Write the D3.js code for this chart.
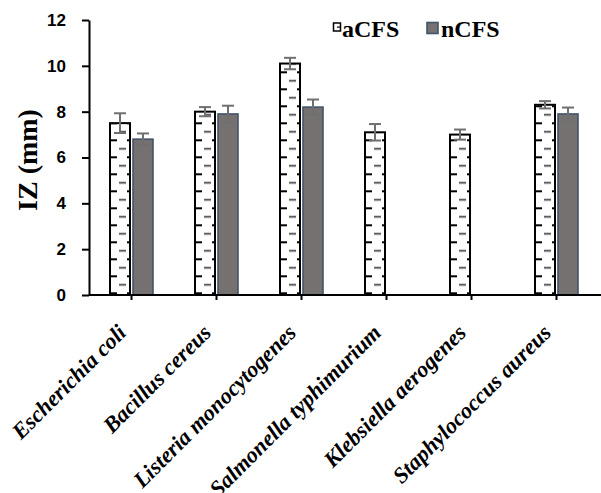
<!DOCTYPE html>
<html>
<head>
<meta charset="utf-8">
<script src="https://cdn.jsdelivr.net/npm/d3@7"></script>
<style>
  body { margin: 0; background: #fff; }
  svg { display: block; }
</style>
</head>
<body>
<svg width="601" height="493"></svg>
<script>
// values
const categories = ["Escherichia coli", "Bacillus cereus", "Listeria monocytogenes",
  "Salmonella typhimurium", "Klebsiella aerogenes", "Staphylococcus aureus"];
const aCFS = [7.5, 8.0, 10.1, 7.1, 7.0, 8.3];
const aCFSErr = [0.43, 0.2, 0.25, 0.36, 0.22, 0.16];
const nCFS = [6.8, 7.9, 8.2, null, null, 7.9];
const nCFSErr = [0.25, 0.36, 0.33, null, null, 0.28];
const yTicks = [0, 2, 4, 6, 8, 10, 12];
const seriesNames = ["aCFS", "nCFS"];

const svg = d3.select("svg");
const plotLeft = 89, plotRight = 599, plotTop = 20, plotBottom = 295;

const x = d3.scaleBand().domain(categories).range([plotLeft, plotRight]).padding(0);
const y = d3.scaleLinear().domain([0, 12]).range([plotBottom, plotTop]);

const barW = 20, gap = 3;
const center = c => x(c) + x.bandwidth() / 2;

// dashed pattern for aCFS, anchored to the bars
const defs = svg.append("defs");
const pat = defs.append("pattern")
  .attr("id", "dash")
  .attr("patternUnits", "userSpaceOnUse")
  .attr("width", 17).attr("height", 17)
  .attr("patternTransform", `translate(${center(categories[0]) - barW - gap / 2},${plotBottom - 2.7})`);
pat.append("rect").attr("width", 17).attr("height", 17).attr("fill", "#fff");
pat.append("rect").attr("x", 0).attr("y", 0).attr("width", 7).attr("height", 2).attr("fill", "#000");
pat.append("rect").attr("x", 9).attr("y", 8.7).attr("width", 7).attr("height", 1.6).attr("fill", "#333");

const data = categories.map((c, i) => ({ c, a: aCFS[i], ae: aCFSErr[i], n: nCFS[i], ne: nCFSErr[i] }));

const g = svg.append("g");

// aCFS bars
g.selectAll(".barA").data(data).enter().append("rect")
  .attr("class", "barA")
  .attr("x", d => center(d.c) - barW - gap / 2)
  .attr("y", d => y(d.a))
  .attr("width", barW)
  .attr("height", d => y(0) - y(d.a))
  .attr("fill", "url(#dash)")
  .attr("stroke", "#000")
  .attr("stroke-width", 2);

// nCFS bars
const nData = data.filter(d => d.n != null);
g.selectAll(".barN").data(nData).enter().append("rect")
  .attr("class", "barN")
  .attr("x", d => center(d.c) + gap / 2)
  .attr("y", d => y(d.n))
  .attr("width", barW)
  .attr("height", d => y(0) - y(d.n))
  .attr("fill", "#767171")
  .attr("stroke", "#44546A")
  .attr("stroke-width", 1.6);

// error bars
function errBars(list, xc, val, err) {
  const e = g.selectAll(null).data(list).enter().append("g")
    .attr("stroke", "#6f6f6f").attr("stroke-width", 2);
  e.append("line")
    .attr("x1", xc).attr("x2", xc)
    .attr("y1", d => y(val(d) + err(d))).attr("y2", d => y(val(d) - err(d)));
  e.append("line")
    .attr("x1", d => xc(d) - 6).attr("x2", d => xc(d) + 6)
    .attr("y1", d => y(val(d) + err(d))).attr("y2", d => y(val(d) + err(d)));
  e.append("line")
    .attr("x1", d => xc(d) - 6).attr("x2", d => xc(d) + 6)
    .attr("y1", d => y(val(d) - err(d))).attr("y2", d => y(val(d) - err(d)));
}
errBars(data, d => center(d.c) - gap / 2 - barW / 2, d => d.a, d => d.ae);
errBars(nData, d => center(d.c) + gap / 2 + barW / 2, d => d.n, d => d.ne);

// y axis
const yAxis = svg.append("g")
  .attr("transform", `translate(${plotLeft},0)`)
  .call(d3.axisLeft(y).tickValues(yTicks).tickSize(7).tickPadding(16).tickSizeOuter(0));
yAxis.select(".domain").attr("stroke", "#000").attr("stroke-width", 2);
yAxis.selectAll(".tick line").attr("stroke", "#000").attr("stroke-width", 2);
yAxis.selectAll(".tick text")
  .attr("font-family", "Liberation Sans, Arial, sans-serif")
  .attr("font-weight", "bold").attr("font-size", 17).attr("fill", "#000");

// x axis
const xAxis = svg.append("g")
  .attr("transform", `translate(0,${plotBottom})`)
  .call(d3.axisBottom(x).tickSize(5).tickSizeOuter(0));
xAxis.select(".domain").attr("d", `M${plotLeft},0H601`).attr("stroke", "#000").attr("stroke-width", 2);
xAxis.selectAll(".tick line").attr("stroke", "#000").attr("stroke-width", 2);
xAxis.selectAll(".tick text")
  .attr("x", -4).attr("y", 39).attr("dy", 0)
  .attr("transform", "rotate(-45,-4,39)")
  .style("text-anchor", "end")
  .attr("font-family", "Liberation Serif, Times New Roman, serif")
  .attr("font-weight", "bold").attr("font-style", "italic")
  .attr("font-size", 22.5).attr("fill", "#000");

// y axis title
svg.append("text")
  .attr("transform", "translate(37,160) rotate(-90)")
  .attr("text-anchor", "middle")
  .attr("font-family", "Liberation Serif, Times New Roman, serif")
  .attr("font-weight", "bold").attr("font-size", 28)
  .text("IZ (mm)");

// legend
const lg = svg.append("g");
lg.append("rect").attr("x", 333.5).attr("y", 23).attr("width", 7).attr("height", 8)
  .attr("fill", "#fff").attr("stroke", "#000").attr("stroke-width", 1.5);
lg.append("rect").attr("x", 337).attr("y", 26.5).attr("width", 3).attr("height", 1.2).attr("fill", "#000");
lg.append("rect").attr("x", 427).attr("y", 22.5).attr("width", 11).attr("height", 11)
  .attr("fill", "#767171").attr("stroke", "#44546A").attr("stroke-width", 1.6);
lg.selectAll("text").data(seriesNames).enter().append("text")
  .attr("x", (d, i) => i === 0 ? 342 : 441)
  .attr("y", 37)
  .attr("font-family", "Liberation Serif, Times New Roman, serif")
  .attr("font-weight", "bold").attr("font-size", 24)
  .text(d => d);
</script>
</body>
</html>
